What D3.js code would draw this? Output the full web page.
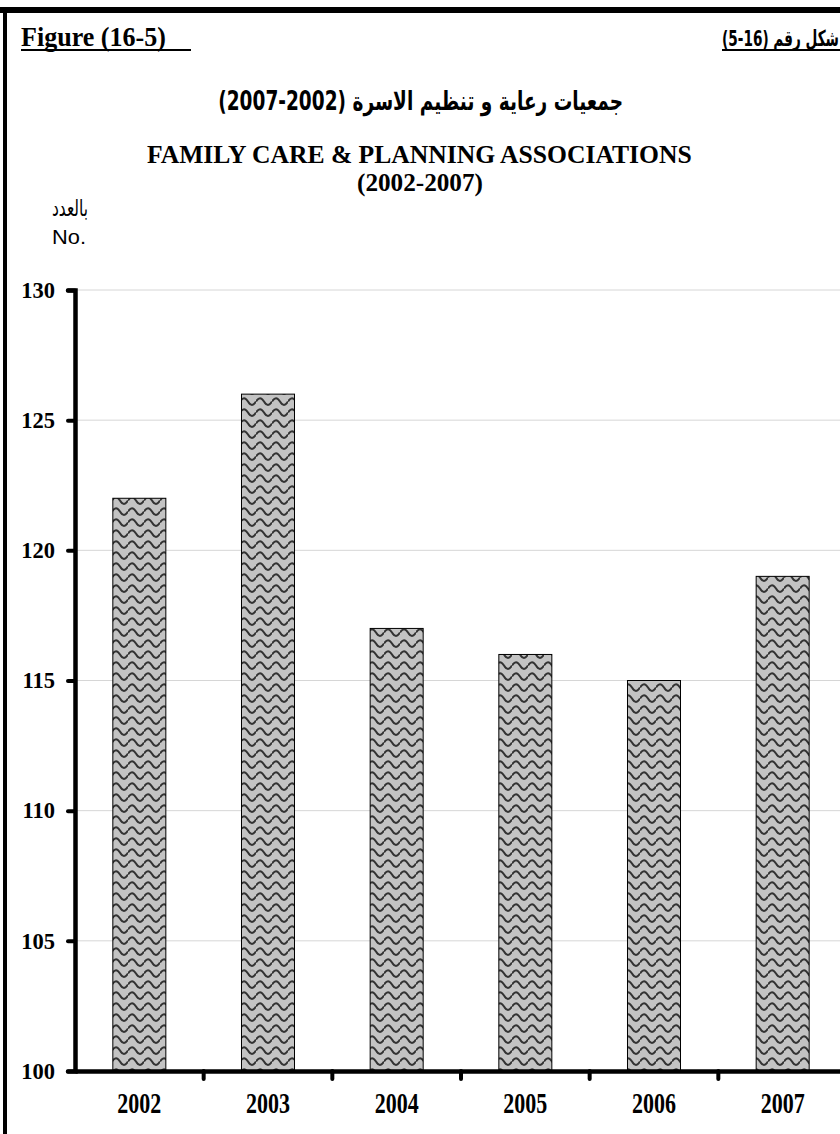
<!DOCTYPE html>
<html>
<head>
<meta charset="utf-8">
<script src="https://cdn.jsdelivr.net/npm/d3@7"></script>
<style>
  html, body { margin: 0; padding: 0; background: #fff; }
  svg { display: block; }
</style>
</head>
<body>
<svg id="chart" width="840" height="1134"></svg>
<script>
// ---- data ----
const years = ["2002", "2003", "2004", "2005", "2006", "2007"];
const values = [122, 126, 117, 116, 115, 119];
const yTickValues = [100, 105, 110, 115, 120, 125, 130];

const figureLabelEn = "Figure (16-5)";
const figureLabelAr = "شكل رقم (16-5)";
const titleAr = "جمعيات رعاية و تنظيم الاسرة  (2002-2007)";
const titleEn1 = "FAMILY CARE & PLANNING ASSOCIATIONS";
const titleEn2 = "(2002-2007)";
const unitAr = "بالعدد";
const unitEn = "No.";

// ---- layout ----
const W = 840, H = 1134;
const plot = { left: 75, right: 847, top: 290, bottom: 1071 };

const svg = d3.select("#chart");

// pattern
const defs = svg.append("defs");
const pat = defs.append("pattern")
  .attr("id", "wave")
  .attr("patternUnits", "userSpaceOnUse")
  .attr("width", 16).attr("height", 11);
pat.append("rect").attr("width", 16).attr("height", 11).attr("fill", "#c3c3c3");
pat.append("path")
  .attr("d", "M0,5.5 C2.7,1 5.3,1 8,5.5 C10.7,10 13.3,10 16,5.5")
  .attr("fill", "none").attr("stroke", "#333").attr("stroke-width", 2);

// helper: fit text between x0 and x1, baseline at by, vertical stretch sy
function fitBox(sel, x0, x1, by, sy = 1) {
  sel.attr("x", 0).attr("y", 0);
  const bb = sel.node().getBBox();
  const sx = (x1 - x0) / bb.width;
  sel.attr("transform", `translate(${x0 - bb.x * sx},${by}) scale(${sx},${sy})`);
}

// frame
svg.append("rect").attr("x", 0).attr("y", 7).attr("width", W).attr("height", 6).attr("fill", "#000");
svg.append("rect").attr("x", 3).attr("y", 7).attr("width", 4).attr("height", H - 7).attr("fill", "#000");

const serif = "'Liberation Serif', 'Times New Roman', serif";
const arab = "'DejaVu Sans', sans-serif";

// figure labels
const fEn = svg.append("text")
  .attr("font-family", serif).attr("font-weight", "bold").attr("font-size", 23)
  .text(figureLabelEn);
fitBox(fEn, 21, 166, 46, 1.15);
svg.append("line").attr("x1", 21).attr("x2", 191).attr("y1", 50).attr("y2", 50)
  .attr("stroke", "#000").attr("stroke-width", 2);

const fAr = svg.append("text")
  .attr("font-family", arab).attr("font-weight", "bold").attr("font-size", 21)
  .attr("direction", "rtl").text(figureLabelAr);
fitBox(fAr, 722, 839, 46, 1.05);
svg.append("line").attr("x1", 722).attr("x2", 840).attr("y1", 50).attr("y2", 50)
  .attr("stroke", "#000").attr("stroke-width", 2);

// titles
const tAr = svg.append("text")
  .attr("font-family", arab).attr("font-weight", "bold").attr("font-size", 24)
  .attr("direction", "rtl").text(titleAr);
fitBox(tAr, 218, 623, 110, 1.08);

const t1 = svg.append("text")
  .attr("font-family", serif).attr("font-weight", "bold").attr("font-size", 23)
  .text(titleEn1);
fitBox(t1, 147, 692, 163, 1.05);

const t2 = svg.append("text")
  .attr("font-family", serif).attr("font-weight", "bold").attr("font-size", 23)
  .text(titleEn2);
fitBox(t2, 357, 483, 191, 1.05);

// unit labels
const uAr = svg.append("text")
  .attr("font-family", arab).attr("font-size", 23)
  .attr("direction", "rtl").text(unitAr);
fitBox(uAr, 52, 88, 216, 1.0);
const uEn = svg.append("text")
  .attr("font-family", "'Liberation Sans', Arial, sans-serif").attr("font-size", 20)
  .text(unitEn);
fitBox(uEn, 52, 86, 244, 1);

// scales
const x = d3.scaleBand().domain(years).range([plot.left, plot.right])
  .paddingInner(0.588).paddingOuter(0.294);
const y = d3.scaleLinear().domain([100, 130]).range([plot.bottom, plot.top]);

// gridlines
svg.append("g").selectAll("line")
  .data(yTickValues.filter(v => v !== 100))
  .join("line")
  .attr("x1", plot.left + 2).attr("x2", W)
  .attr("y1", d => y(d)).attr("y2", d => y(d))
  .attr("stroke", "#d6d6d6").attr("stroke-width", 1);

// bars
svg.append("g").selectAll("rect")
  .data(years.map((yr, i) => ({ yr, v: values[i] })))
  .join("rect")
  .attr("x", d => x(d.yr))
  .attr("y", d => y(d.v))
  .attr("width", x.bandwidth())
  .attr("height", d => y(100) - y(d.v))
  .attr("fill", "url(#wave)")
  .attr("stroke", "#000").attr("stroke-width", 1);

// y axis
const yAxis = d3.axisLeft(y).tickValues(yTickValues).tickSize(7).tickPadding(13).tickFormat(d3.format("d"));
const gy = svg.append("g").attr("transform", `translate(${plot.left},0)`).call(yAxis);
gy.select(".domain").attr("stroke", "#000").attr("stroke-width", 4.5).attr("stroke-linecap", "round");
gy.selectAll(".tick line").attr("stroke", "#000").attr("stroke-width", 4).attr("stroke-linecap", "round");
gy.selectAll(".tick text").attr("font-family", serif).attr("font-weight", "bold")
  .attr("font-size", 22.5).attr("fill", "#000");

// x axis
const xAxis = d3.axisBottom(x).tickSize(0).tickPadding(0);
const gx = svg.append("g").attr("transform", `translate(0,${plot.bottom})`).call(xAxis);
gx.select(".domain").attr("stroke", "#000").attr("stroke-width", 4.5);
gx.selectAll(".tick text")
  .attr("font-family", serif).attr("font-weight", "bold")
  .attr("font-size", 22).attr("fill", "#000")
  .attr("y", 0).attr("dy", null)
  .attr("transform", "translate(0,42) scale(1,1.35)");
// category separator ticks
gx.append("g").selectAll("line")
  .data(years)
  .join("line")
  .attr("x1", d => x(d) + x.bandwidth() / 2 + x.step() / 2)
  .attr("x2", d => x(d) + x.bandwidth() / 2 + x.step() / 2)
  .attr("y1", 0).attr("y2", 8)
  .attr("stroke", "#000").attr("stroke-width", 4).attr("stroke-linecap", "round");
</script>
</body>
</html>
